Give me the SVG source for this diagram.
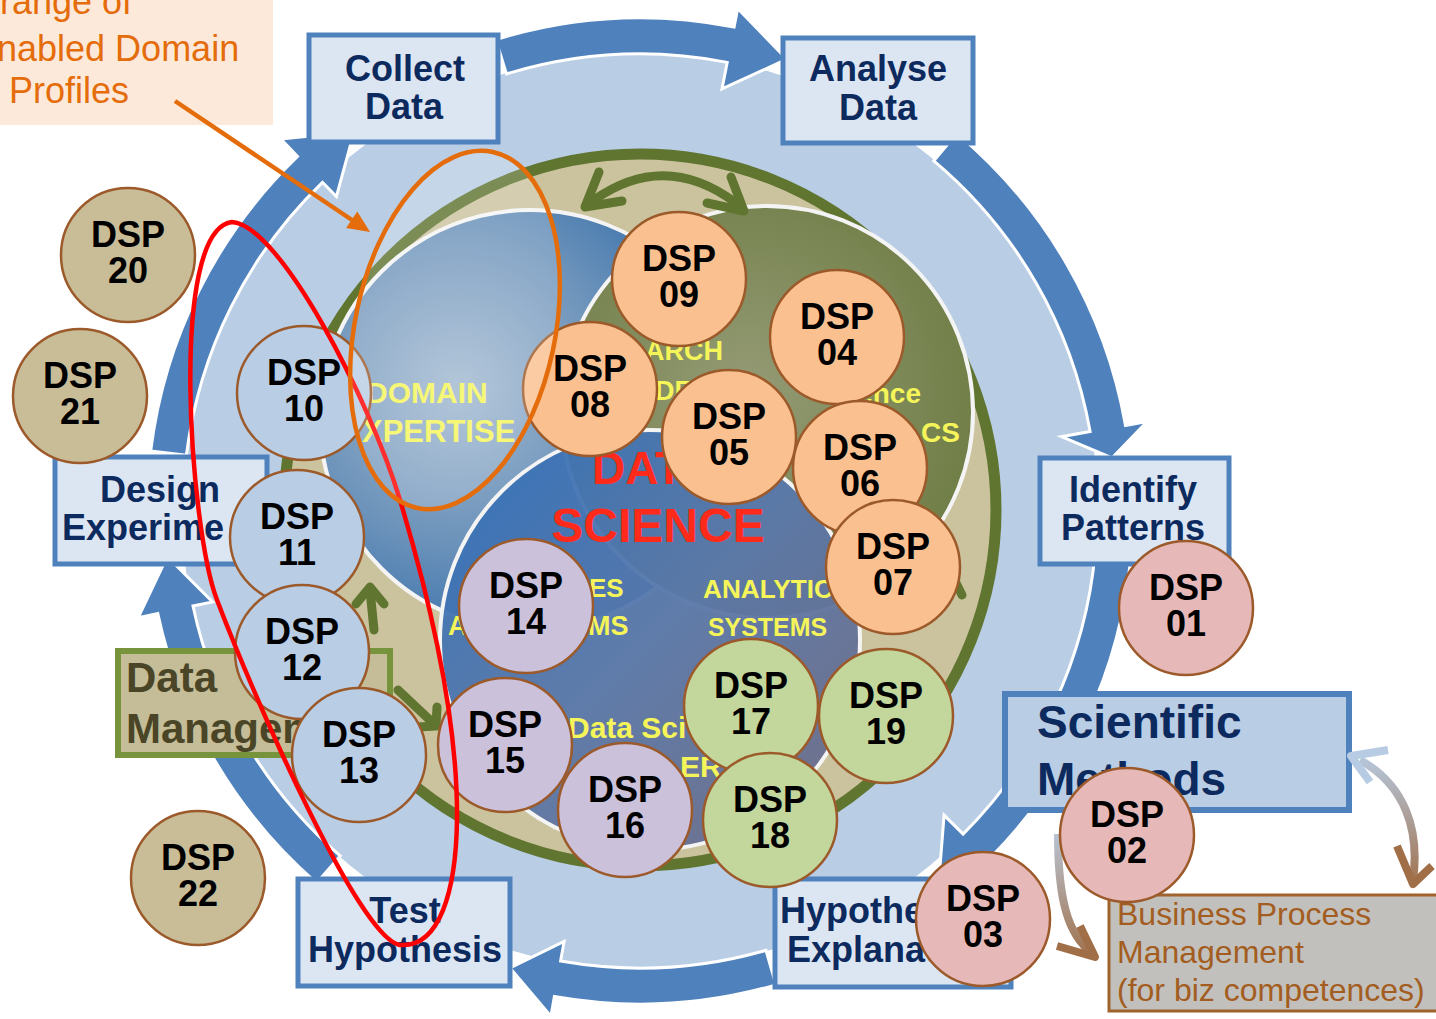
<svg xmlns="http://www.w3.org/2000/svg" width="1436" height="1019" viewBox="0 0 1436 1019">
<defs>
<style>
text{font-family:'Liberation Sans',Arial,sans-serif}
.arr{fill:#4f81bd;stroke:#fff;stroke-width:3;stroke-linejoin:miter}
.box rect{fill:#dce6f2;stroke:#4f81bd;stroke-width:5}
.box text{font-weight:bold;font-size:36px;fill:#0c2a5e;text-anchor:middle}
.box text.st{text-anchor:start}
.dsp circle{stroke:#9c5a2b;stroke-width:2.5}
.dsp text{font-weight:bold;font-size:36px;text-anchor:middle;fill:#000}
.beige circle{fill:#c9bd98}
.blue circle{fill:#b9cde5}
.peach circle{fill:#fac090}
.lav circle{fill:#ccc1da}
.green circle{fill:#c3d69b}
.pink circle{fill:#e6b9b8}
.vt{font-weight:bold;fill:#f5f55a}
.rd{font-weight:bold;fill:#ff2a1a}
.oa{fill:none;stroke:#5f7530;stroke-width:9;stroke-linecap:round;stroke-linejoin:round}
.venn{stroke:#f4f4f4;stroke-width:4}
</style>
<radialGradient id="gDom" cx="0.33" cy="0.42" r="0.72">
<stop offset="0" stop-color="#a3bad1"/><stop offset="0.5" stop-color="#6e94bb"/><stop offset="1" stop-color="#2a67a6"/>
</radialGradient>
<radialGradient id="gGrn" cx="0.45" cy="0.45" r="0.65">
<stop offset="0" stop-color="#959b76"/><stop offset="1" stop-color="#6b7a40"/>
</radialGradient>
<linearGradient id="gBot" x1="0" y1="0" x2="1" y2="1">
<stop offset="0" stop-color="#2f70ba"/><stop offset="0.5" stop-color="#5a78aa"/><stop offset="1" stop-color="#6e6a84"/>
</linearGradient>
<linearGradient id="gR" gradientUnits="userSpaceOnUse" x1="0" y1="750" x2="0" y2="890">
<stop offset="0" stop-color="#b7cbe3"/><stop offset="1" stop-color="#a06f48"/>
</linearGradient>
<linearGradient id="gL" gradientUnits="userSpaceOnUse" x1="0" y1="830" x2="0" y2="960">
<stop offset="0" stop-color="#b9c6d6"/><stop offset="1" stop-color="#a06f48"/>
</linearGradient>
</defs>

<rect x="0" y="0" width="1436" height="1019" fill="#fff"/>

<!-- light blue disc -->
<circle cx="640" cy="511" r="458" fill="#b9cde5"/>

<!-- cycle arrows -->
<g id="connectors-cycle">
<path class="arr" d="M495.9,39.5 A493,493 0 0 1 734.1,27.1 L737.7,8.4 L786.8,59.2 L722,88.9 L727.2,62.4 A457,457 0 0 0 506.4,74 Z"/>
<path class="arr" d="M956.9,133.3 A493,493 0 0 1 1125.5,425.4 L1147.2,421.6 L1112,458 L1061.5,436.7 L1090.1,431.6 A457,457 0 0 0 933.8,160.9 Z"/>
<path class="arr" d="M1131.1,554 A493,493 0 0 1 988.6,859.6 L1004.2,875.2 L938.9,880.1 L944.1,815.1 L963.1,834.1 A457,457 0 0 0 1095.3,550.8 Z"/>
<path class="arr" d="M775.9,984.9 A493,493 0 0 1 554.4,996.5 L550.9,1016.2 L510,968 L564.1,941.4 L560.6,961.1 A457,457 0 0 0 766,950.3 Z"/>
<path class="arr" d="M316.6,883.1 A493,493 0 0 1 157.8,613.5 L138.2,617.7 L167.2,556.5 L212.6,601.9 L193,606 A457,457 0 0 0 340.2,855.9 Z"/>
<path class="arr" d="M150.7,450.9 A493,493 0 0 1 297.5,156.4 L280.9,139.1 L354.1,131.6 L336.4,196.6 L322.5,182.3 A457,457 0 0 0 186.4,455.3 Z"/>
</g>

<!-- data science core -->
<g id="core">
<circle cx="640" cy="510" r="356" fill="#cbc39e" stroke="#5f7530" stroke-width="11"/>
<circle class="venn" cx="530" cy="420" r="210" fill="url(#gDom)"/>
<circle class="venn" cx="767" cy="412" r="206" fill="url(#gGrn)"/>
<circle class="venn" cx="650" cy="640" r="210" fill="url(#gBot)" fill-opacity="0.95"/>
<text class="vt" x="366" y="403" font-size="30">DOMAIN</text>
<text class="vt" x="362" y="442" font-size="31">XPERTISE</text>
<text class="vt" x="645" y="360" font-size="27">ARCH</text>
<text class="vt" x="655" y="400" font-size="27">DE</text>
<text class="vt" x="921" y="403" font-size="28" text-anchor="end">ence</text>
<text class="vt" x="921" y="442" font-size="28">CS</text>
<text class="rd" x="592" y="484" font-size="46">DAT</text>
<text class="rd" x="658" y="542" font-size="48" text-anchor="middle">SCIENCE</text>
<text class="vt" x="589" y="597" font-size="26">ES</text>
<text class="vt" x="448" y="635" font-size="27">A</text>
<text class="vt" x="588" y="635" font-size="27">MS</text>
<text class="vt" x="703" y="598" font-size="26" textLength="130" lengthAdjust="spacingAndGlyphs">ANALYTIC</text>
<text class="vt" x="708" y="636" font-size="26" textLength="119" lengthAdjust="spacingAndGlyphs">SYSTEMS</text>
<text class="vt" x="568" y="738" font-size="30">Data Sci</text>
<text class="vt" x="680" y="777" font-size="30">ER</text>
</g>

<!-- olive cycle arrows in ring -->
<g id="connectors-ring">
<path class="oa" d="M594,200 Q665,150 736,203" stroke-width="11"/>
<polyline class="oa" points="599,172 585,207 622,201" stroke-width="11"/>
<polyline class="oa" points="731,177 744,211 707,203" stroke-width="11"/>
<path class="oa" d="M374,630 L370,590"/>
<polyline class="oa" points="356,604 370,587 384,604"/>
<path class="oa" d="M398,690 L432,722"/>
<polyline class="oa" points="418,727 436,726 437,707"/>
<path class="oa" d="M955,581 L962,595" stroke-width="6"/>
</g>

<!-- process boxes -->
<g id="collect" class="box"><rect x="309" y="35" width="189" height="107"/><text x="405" y="81">Collect</text><text x="404" y="119">Data</text></g>
<g id="analyse" class="box"><rect x="783" y="38" width="190" height="105"/><text x="878" y="81">Analyse</text><text x="878" y="120">Data</text></g>
<g id="identify" class="box"><rect x="1040" y="458" width="189" height="106"/><text x="1133" y="502">Identify</text><text x="1133" y="540">Patterns</text></g>
<g id="scientific"><rect x="1005" y="694" width="344" height="116" fill="#b9cde5" stroke="#4f81bd" stroke-width="6"/>
<text x="1037" y="738" font-size="46" font-weight="bold" fill="#0c2a5e">Scientific</text>
<text x="1037" y="795" font-size="46" font-weight="bold" fill="#0c2a5e">Methods</text></g>
<g id="hypothesis" class="box"><rect x="775" y="879" width="236" height="108"/><text class="st" x="780" y="923">Hypothesis</text><text class="st" x="787" y="962">Explanation</text></g>
<g id="test" class="box"><rect x="298" y="879" width="212" height="107"/><text x="405" y="923">Test</text><text x="405" y="962">Hypothesis</text></g>
<g id="design" class="box"><rect x="55" y="457" width="212" height="107"/><text x="160" y="502">Design</text><text class="st" x="62" y="540">Experime</text></g>
<g id="datamgmt"><rect x="118" y="651" width="272" height="104" fill="#c4bd97" stroke="#77933c" stroke-width="6"/>
<text x="126" y="692" font-size="42" font-weight="bold" fill="#4a4526">Data</text>
<text x="126" y="743" font-size="42" font-weight="bold" fill="#4a4526">Management</text></g>

<!-- business process box -->
<g id="business"><rect x="1109" y="895" width="332" height="116" fill="#c2c0bd" stroke="#a0632e" stroke-width="3"/>
<text x="1117" y="925" font-size="32" fill="#a35d20">Business Process</text>
<text x="1117" y="963" font-size="32" fill="#a35d20">Management</text>
<text x="1117" y="1001" font-size="32" fill="#a35d20">(for biz competences)</text></g>

<!-- callout -->
<g id="callout"><rect x="-5" y="-5" width="278" height="130" fill="#fde9d9"/>
<text x="0" y="14" font-size="36" fill="#e46c0a">range of</text>
<text x="-3" y="61" font-size="36" fill="#e46c0a">nabled Domain</text>
<text x="9" y="103" font-size="36" fill="#e46c0a">Profiles</text></g>

<!-- annotation connectors -->
<g id="connectors-annot">
<path d="M1360,760 C1405,785 1420,830 1413,880" fill="none" stroke="url(#gR)" stroke-width="8"/>
<polyline points="1388,750 1351,756 1370,782" fill="none" stroke="#b7cbe3" stroke-width="8" stroke-linejoin="round"/>
<polyline points="1397,846 1413,884 1432,866" fill="none" stroke="#a06f48" stroke-width="8" stroke-linejoin="round"/>
<path d="M1058,834 C1058,900 1068,935 1092,953" fill="none" stroke="url(#gL)" stroke-width="8"/>
<polyline points="1057,946 1095,957 1080,926" fill="none" stroke="#a06f48" stroke-width="8" stroke-linejoin="round"/>
<line x1="175" y1="101" x2="352" y2="220" stroke="#e46c0a" stroke-width="4.5"/>
<polygon points="370,232 346.1,228 357.3,211.4" fill="#e46c0a"/>
</g>

<!-- DSP nodes -->
<g id="dsp09" class="dsp peach"><circle cx="679" cy="279" r="67"/><text x="679" y="271">DSP</text><text x="679" y="307">09</text></g>
<g id="dsp04" class="dsp peach"><circle cx="837" cy="337" r="67"/><text x="837" y="329">DSP</text><text x="837" y="365">04</text></g>
<g id="dsp08" class="dsp peach"><circle cx="590" cy="389" r="67"/><text x="590" y="381">DSP</text><text x="590" y="417">08</text></g>
<g id="dsp05" class="dsp peach"><circle cx="729" cy="437" r="67"/><text x="729" y="429">DSP</text><text x="729" y="465">05</text></g>
<g id="dsp06" class="dsp peach"><circle cx="860" cy="468" r="67"/><text x="860" y="460">DSP</text><text x="860" y="496">06</text></g>
<g id="dsp07" class="dsp peach"><circle cx="893" cy="567" r="67"/><text x="893" y="559">DSP</text><text x="893" y="595">07</text></g>
<g id="dsp10" class="dsp blue"><circle cx="304" cy="393" r="67"/><text x="304" y="385">DSP</text><text x="304" y="421">10</text></g>
<g id="dsp11" class="dsp blue"><circle cx="297" cy="537" r="67"/><text x="297" y="529">DSP</text><text x="297" y="565">11</text></g>
<g id="dsp12" class="dsp blue"><circle cx="302" cy="652" r="67"/><text x="302" y="644">DSP</text><text x="302" y="680">12</text></g>
<g id="dsp13" class="dsp blue"><circle cx="359" cy="755" r="67"/><text x="359" y="747">DSP</text><text x="359" y="783">13</text></g>
<g id="dsp14" class="dsp lav"><circle cx="526" cy="606" r="67"/><text x="526" y="598">DSP</text><text x="526" y="634">14</text></g>
<g id="dsp15" class="dsp lav"><circle cx="505" cy="745" r="67"/><text x="505" y="737">DSP</text><text x="505" y="773">15</text></g>
<g id="dsp16" class="dsp lav"><circle cx="625" cy="810" r="67"/><text x="625" y="802">DSP</text><text x="625" y="838">16</text></g>
<g id="dsp17" class="dsp green"><circle cx="751" cy="706" r="67"/><text x="751" y="698">DSP</text><text x="751" y="734">17</text></g>
<g id="dsp19" class="dsp green"><circle cx="886" cy="716" r="67"/><text x="886" y="708">DSP</text><text x="886" y="744">19</text></g>
<g id="dsp18" class="dsp green"><circle cx="770" cy="820" r="67"/><text x="770" y="812">DSP</text><text x="770" y="848">18</text></g>
<g id="dsp20" class="dsp beige"><circle cx="128" cy="255" r="67"/><text x="128" y="247">DSP</text><text x="128" y="283">20</text></g>
<g id="dsp21" class="dsp beige"><circle cx="80" cy="396" r="67"/><text x="80" y="388">DSP</text><text x="80" y="424">21</text></g>
<g id="dsp22" class="dsp beige"><circle cx="198" cy="878" r="67"/><text x="198" y="870">DSP</text><text x="198" y="906">22</text></g>
<g id="dsp01" class="dsp pink"><circle cx="1186" cy="608" r="67"/><text x="1186" y="600">DSP</text><text x="1186" y="636">01</text></g>
<g id="dsp02" class="dsp pink"><circle cx="1127" cy="835" r="67"/><text x="1127" y="827">DSP</text><text x="1127" y="863">02</text></g>
<g id="dsp03" class="dsp pink"><circle cx="983" cy="919" r="67"/><text x="983" y="911">DSP</text><text x="983" y="947">03</text></g>

<!-- highlight loops -->
<path id="red-loop" d="M232,222 C280,225 370,400 400,500 C430,600 458,720 457,820 C456,890 440,948 400,945 C360,940 255,700 217,600 C190,530 168,230 232,222 Z" fill="none" stroke="#ff0000" stroke-width="4.5"/>
<ellipse id="orange-loop" cx="455" cy="330" rx="100" ry="182" transform="rotate(12 455 330)" fill="#ffffff" fill-opacity="0.18" stroke="#e46c0a" stroke-width="4.5"/>
</svg>
